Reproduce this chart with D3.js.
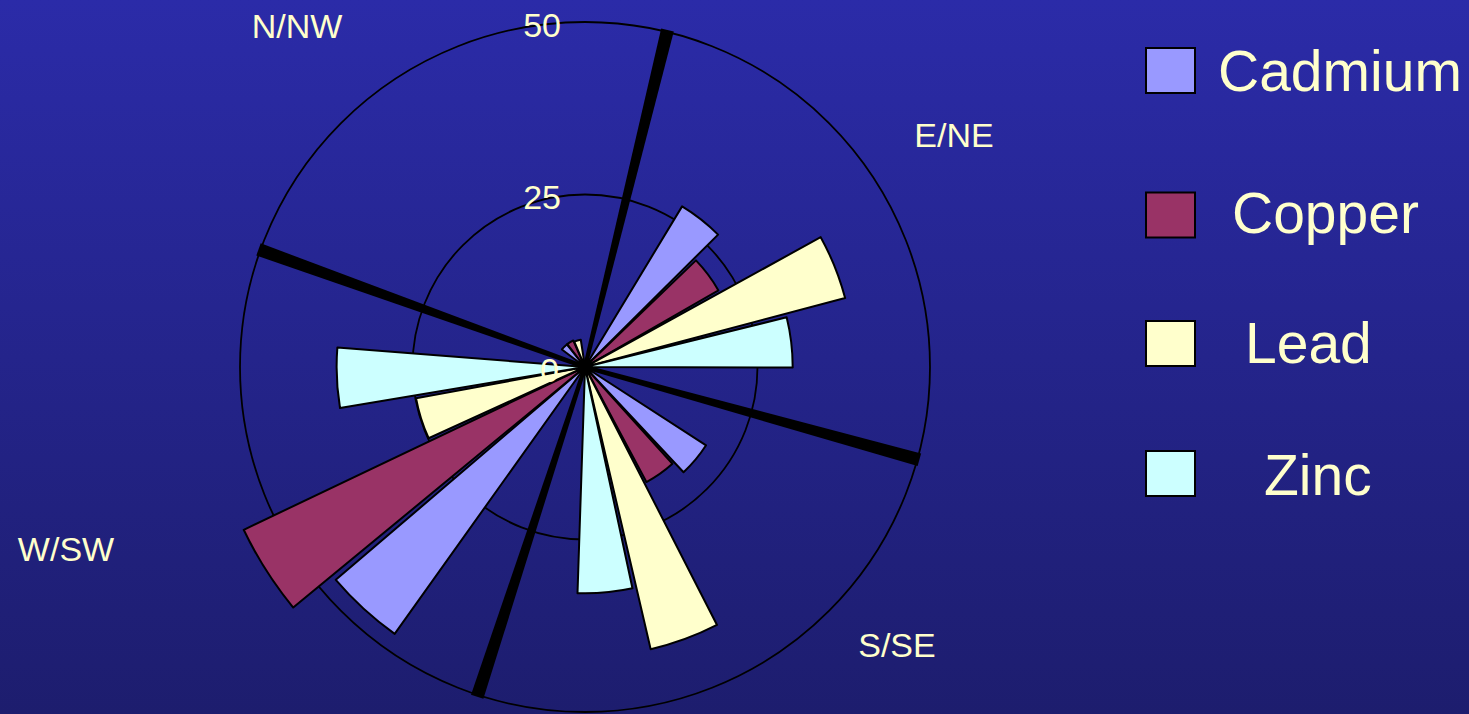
<!DOCTYPE html>
<html>
<head>
<meta charset="utf-8">
<script src="https://cdn.jsdelivr.net/npm/d3@7"></script>
<style>
  html, body { margin: 0; padding: 0; overflow: hidden; background: #23239a; }
  svg { display: block; }
</style>
</head>
<body>
<svg id="chart" width="1469" height="714"></svg>
<script>
// Compass sectors and the metals measured in each
const directions = ["N/NW", "E/NE", "S/SE", "W/SW"];
const metals = ["Cadmium", "Copper", "Lead", "Zinc"];

// One value per direction for each metal (order follows `directions`)
const cadmium = [4.2, 27.2, 20.9, 47.5];
const copper  = [4.2, 22.3, 18.9, 54.8];
const lead    = [4.0, 39.0, 42.0, 24.9];
const zinc    = [0.5, 30.1, 32.8, 36.0];

// Radial axis ticks
const radialTicks = [0, 25, 50];

// ---- layout ----
const W = 1469, H = 714;
const cx = 585, cy = 367;
const colors = ["#9999FF", "#993366", "#FFFFCC", "#CCFFFF"];
const textColor = "#FFFFCC";
// bearing (deg, clockwise from north) where each direction's sector begins
const sectorStart = [289.8, 13.75, 105.5, 198.1];
const dirLabelPos = [[297, 38], [954, 147], [897, 657], [66, 561]];
const legendSquareY = [48, 192.5, 321, 451];
const legendTextPos = [[1218, 91], [1232, 233], [1245, 363], [1264, 495]];

const svg = d3.select("#chart");
const defs = svg.append("defs");
const grad = defs.append("linearGradient")
  .attr("id", "bg").attr("x1", 0).attr("y1", 0).attr("x2", 0).attr("y2", 1);
grad.append("stop").attr("offset", "0%").attr("stop-color", "#2b2ba8");
grad.append("stop").attr("offset", "100%").attr("stop-color", "#1d1d6e");
svg.append("rect").attr("width", W).attr("height", H).attr("fill", "url(#bg)");

const r = d3.scaleLinear().domain([0, 50]).range([0, 345]);
// angular placement of the four metals inside a sector (degrees from sector start)
const band = d3.scaleBand().domain(metals).range([17.4, 76.4]).paddingInner(1 / 15);
const toRad = d => d * Math.PI / 180;

const font = "'Liberation Sans', Arial, Helvetica, sans-serif";
const g = svg.append("g").attr("transform", `translate(${cx},${cy})`);

// concentric rings
g.selectAll("circle.ring")
  .data(radialTicks.filter(d => d > 0))
  .join("circle")
  .attr("class", "ring")
  .attr("r", d => r(d))
  .attr("fill", "none")
  .attr("stroke", "#000")
  .attr("stroke-width", 1.8);

// sector dividers: tapered black spokes
const spoke = d3.line();
g.selectAll("path.sep")
  .data(sectorStart)
  .join("path")
  .attr("class", "sep")
  .attr("d", b => {
    const a = toRad(b);
    const ux = Math.sin(a), uy = -Math.cos(a);
    const px = -uy, py = ux;
    const R = r(50) + 2, w0 = 2, w1 = 6.5;
    return spoke([
      [px * w0, py * w0],
      [ux * R + px * w1, uy * R + py * w1],
      [ux * R - px * w1, uy * R - py * w1],
      [-px * w0, -py * w0]
    ]) + "Z";
  })
  .attr("fill", "#000");

// wedges
const series = [cadmium, copper, lead, zinc];
const cells = [];
directions.forEach((dir, di) => {
  metals.forEach((m, mi) => {
    cells.push({ dir, di, metal: m, mi, value: series[mi][di] });
  });
});

const arc = d3.arc()
  .innerRadius(0)
  .outerRadius(d => r(d.value))
  .startAngle(d => toRad(sectorStart[d.di] + band(d.metal)))
  .endAngle(d => toRad(sectorStart[d.di] + band(d.metal) + band.bandwidth()));

g.selectAll("path.wedge")
  .data(cells)
  .join("path")
  .attr("class", "wedge")
  .attr("d", arc)
  .attr("fill", d => colors[d.mi])
  .attr("stroke", "#000")
  .attr("stroke-width", 2)
  .attr("stroke-linejoin", "round");

// hub where all edges meet
g.append("circle").attr("r", 7).attr("fill", "#000");

// ring labels, drawn over the wedges
g.selectAll("text.tick")
  .data(radialTicks)
  .join("text")
  .attr("class", "tick")
  .attr("x", d => d === 0 ? -26 : -24)
  .attr("y", d => -r(d) + 14.5)
  .attr("text-anchor", "end")
  .attr("font-family", font)
  .attr("font-size", 34)
  .attr("fill", textColor)
  .text(d => d);

// direction labels
svg.selectAll("text.dir")
  .data(directions)
  .join("text")
  .attr("class", "dir")
  .attr("x", (d, i) => dirLabelPos[i][0])
  .attr("y", (d, i) => dirLabelPos[i][1])
  .attr("text-anchor", "middle")
  .attr("font-family", font)
  .attr("font-size", 34)
  .attr("fill", textColor)
  .text(d => d);

// legend
const legend = svg.append("g");
legend.selectAll("rect")
  .data(metals)
  .join("rect")
  .attr("x", 1146)
  .attr("y", (d, i) => legendSquareY[i])
  .attr("width", 49)
  .attr("height", 45)
  .attr("fill", (d, i) => colors[i])
  .attr("stroke", "#000")
  .attr("stroke-width", 2);

legend.selectAll("text")
  .data(metals)
  .join("text")
  .attr("x", (d, i) => legendTextPos[i][0])
  .attr("y", (d, i) => legendTextPos[i][1])
  .attr("font-family", font)
  .attr("font-size", 57)
  .attr("fill", textColor)
  .text(d => d);
</script>
</body>
</html>
